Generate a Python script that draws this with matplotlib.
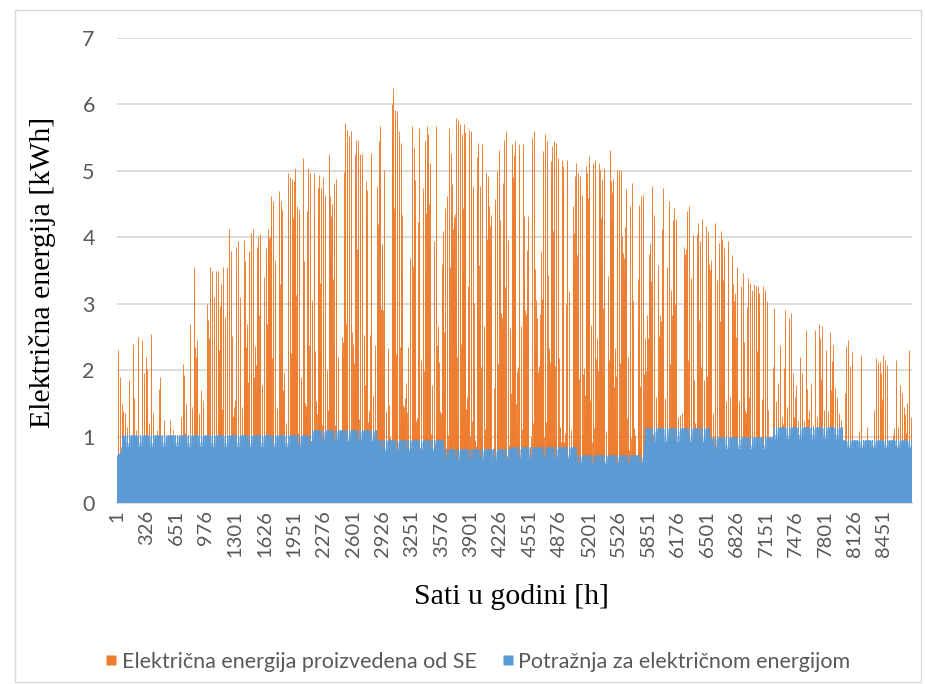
import numpy as np
import matplotlib
matplotlib.use("Agg")
import matplotlib.pyplot as plt
from matplotlib.lines import Line2D
from matplotlib.patches import Rectangle

# Peak hourly output of the solar plant for every day of the year [kWh]
jan_peaks = [2.3, 1.9, 1.5, 1.35, 1.15, 1.85, 0.9, 2.4, 1.1, 2.5,
             0.8, 2.45, 1.95, 2.2, 1.2, 2.55, 1.35, 0.6, 1.1, 1.9,
             0.9, 1.25, 0.5, 0.8, 1.25, 1.1, 0.7, 0.6, 0.8, 1.3, 2.1]
feb_peaks = [1.5, 0.9, 2.7, 1.45, 3.55, 2.45, 1.35, 1.7, 1.55, 0.8,
             3.0, 3.55, 3.5, 3.1, 3.5, 3.5, 3.3, 3.55, 2.8, 3.56,
             4.12, 3.8, 1.45, 3.86, 3.94, 3.1, 1.45, 3.96]
mar_peaks = [2.7, 3.79, 4.07, 4.12, 2.36, 4.02, 4.05, 1.78, 3.4, 3.84,
             4.12, 4.62, 4.54, 3.66, 1.43, 4.7, 4.54, 1.96, 1.2, 4.97,
             4.9, 4.87, 5.05, 4.47, 4.42, 1.9, 5.2, 1.5, 5.05, 4.97, 3.06]
apr_peaks = [4.97, 1.53, 4.94, 4.74, 4.9, 4.64, 2.0, 5.25, 4.5, 4.82,
             4.87, 2.2, 0.5, 2.5, 5.72, 5.62, 5.52, 5.6, 2.4, 5.47,
             5.47, 5.25, 5.25, 2.53, 4.85, 1.4, 5.27, 1.63, 2.38, 4.77]
may_peaks = [5.67, 3.9, 5.02, 1.38, 2.33, 1.0, 6.25, 5.92, 5.9, 5.6,
             5.42, 1.48, 1.8, 2.35, 3.69, 5.67, 5.35, 1.28, 5.65, 2.16,
             4.74, 5.45, 5.67, 5.12, 1.78, 3.94, 5.67, 2.66, 1.38, 4.09, 4.44]
jun_peaks = [4.62, 5.65, 5.27, 4.3, 5.8, 5.77, 5.7, 5.55, 5.7, 1.6,
             5.62, 5.6, 4.77, 0.95, 5.42, 4.77, 5.4, 2.66, 4.97, 4.92,
             4.34, 0.5, 4.57, 5.0, 5.32, 2.86, 5.47, 5.6, 3.96, 2.63]
jul_peaks = [5.4, 5.45, 1.98, 5.4, 2.66, 5.4, 2.91, 4.32, 0.4, 5.5,
             5.6, 3.06, 2.06, 3.8, 5.3, 5.55, 5.45, 2.33, 5.37, 5.45,
             5.42, 5.2, 1.15, 5.17, 1.05, 5.17, 3.19, 1.1, 4.47, 5.12, 4.97]
aug_peaks = [4.92, 4.64, 2.03, 5.07, 5.22, 2.68, 5.12, 5.17, 2.48, 5.12,
             4.87, 5.05, 1.08, 3.41, 5.32, 4.87, 2.33, 5.02, 5.02, 5.02,
             3.76, 4.72, 2.2, 4.47, 4.82, 1.13, 0.3, 4.49, 4.62, 4.64, 2.48]
sep_peaks = [2.83, 3.91, 4.77, 4.34, 1.6, 3.59, 2.83, 4.74, 1.58, 3.56,
             4.54, 3.21, 4.44, 4.27, 1.3, 1.33, 1.35, 3.86, 4.39, 4.47,
             3.39, 4.04, 1.2, 4.22, 3.94, 4.27, 1.85, 4.17, 4.09, 3.66]
oct_peaks = [1.35, 4.22, 3.36, 3.91, 4.09, 3.86, 1.53, 3.94, 1.6, 3.74,
             3.16, 3.56, 1.53, 3.26, 3.46, 1.4, 3.39, 3.31, 3.21, 3.29,
             3.26, 3.26, 0.4, 3.26, 3.21, 3.04, 0.8, 0.9, 2.93, 1.53, 1.8]
nov_peaks = [2.38, 1.3, 2.91, 1.45, 2.78, 2.86, 1.96, 1.78, 1.25, 2.2,
             1.96, 1.23, 2.6, 1.4, 1.8, 1.17, 2.6, 1.3, 2.7, 2.66,
             1.4, 2.3, 1.38, 2.58, 2.38, 1.73, 1.6, 1.35, 1.25, 0.7]
dec_peaks = [2.36, 2.46, 2.06, 2.28, 0.6, 0.8, 1.08, 2.23, 0.5, 0.7,
             1.15, 0.6, 0.4, 1.4, 2.18, 2.13, 2.13, 2.23, 2.16, 2.08,
             0.7, 0.5, 1.13, 2.16, 1.15, 1.78, 1.65, 1.45, 1.5, 2.3, 1.3]

# Share of the daily peak produced in each hour (0-23)
winter_shape = [0, 0, 0, 0, 0, 0, 0, 0, 0.12, 0.4, 0.7, 0.9, 1.0,
                0.92, 0.66, 0.34, 0.06, 0, 0, 0, 0, 0, 0, 0]
spring_shape = [0, 0, 0, 0, 0, 0, 0.06, 0.24, 0.48, 0.7, 0.87, 0.96, 1.0,
                0.97, 0.88, 0.7, 0.46, 0.2, 0.04, 0, 0, 0, 0, 0]
summer_shape = [0, 0, 0, 0, 0, 0.05, 0.18, 0.38, 0.58, 0.75, 0.88, 0.96, 1.0,
                0.98, 0.91, 0.8, 0.63, 0.42, 0.22, 0.08, 0.01, 0, 0, 0]

month_peaks = [jan_peaks, feb_peaks, mar_peaks, apr_peaks, may_peaks, jun_peaks,
               jul_peaks, aug_peaks, sep_peaks, oct_peaks, nov_peaks, dec_peaks]
month_shapes = [winter_shape, winter_shape, spring_shape, spring_shape,
                summer_shape, summer_shape, summer_shape, summer_shape,
                spring_shape, spring_shape, winter_shape, winter_shape]

# Consumption: first day of each period, daytime level, night level [kWh]
demand_start = [0, 2, 89, 119, 150, 180, 211, 242, 272, 301, 333]
demand_high = [0.75, 1.03, 1.10, 0.95, 0.82, 0.84, 0.72, 1.13, 0.99, 1.15, 0.95]
demand_low = [0.72, 0.84, 0.93, 0.78, 0.65, 0.67, 0.59, 0.92, 0.82, 0.96, 0.83]
# Hourly position between night level (0) and daytime level (1)
demand_shape = [0, 0, 0, 0, 0, 0, 0, 0.4, 0.9, 1, 1, 1,
                1, 1, 1, 1, 1, 1, 1, 0.8, 0.3, 0, 0, 0]

tick_hours = list(range(1, 8761, 325))

orange = '#ED7D31'
blue = '#5B9BD5'
grey_text = '#595959'
grid_grey = '#D9D9D9'

# hourly series
solar = []
for peaks, shape in zip(month_peaks, month_shapes):
    for p in peaks:
        solar.extend(p * np.array(shape))
solar = np.array(solar)

ends = demand_start[1:] + [365]
demand = []
for start, end, hi, lo in zip(demand_start, ends, demand_high, demand_low):
    for _ in range(start, end):
        demand.extend(lo + (hi - lo) * np.array(demand_shape))
demand = np.array(demand)

hours = np.arange(1, len(solar) + 1)

fig = plt.figure(figsize=(9.25, 6.84), dpi=100)
ax = fig.add_axes([117 / 925, 1 - 503 / 684, 795 / 925, 465 / 684])

# one thin bar per hour, snapped to the pixel grid
ax.vlines(hours, 0, solar, colors=orange, linewidth=0.65, zorder=2, snap=True)
ax.vlines(hours, 0, demand, colors=blue, linewidth=0.38, zorder=3, snap=True)

ax.set_xlim(0.5, 8760.5)
ax.set_ylim(0, 7)
ax.set_yticks(range(0, 8))
ax.set_xticks(tick_hours)
ax.set_xticklabels([str(h) for h in tick_hours], rotation=90, family='Lato', fontsize=14.5)
for lab in ax.get_yticklabels():
    lab.set_family('Lato')
    lab.set_fontsize(15.5)
ax.tick_params(axis='x', length=0, colors=grey_text, pad=5)
ax.tick_params(axis='y', length=0, colors=grey_text, pad=16)

ax.grid(axis='y', color=grid_grey, linewidth=1.3)
ax.set_axisbelow(True)
for side in ['left', 'right', 'top']:
    ax.spines[side].set_visible(False)
ax.spines['bottom'].set_color(grid_grey)
ax.spines['bottom'].set_linewidth(1.3)

fig.text(43 / 925, 1 - 272 / 684, 'Električna energija [kWh]', rotation=90,
         ha='center', va='center', family='Liberation Serif', fontsize=21.5)
fig.text(512 / 925, 1 - 597 / 684, 'Sati u godini [h]',
         ha='center', va='center', family='Liberation Serif', fontsize=21.5)

handles = [Line2D([], [], marker='s', markersize=7, linestyle='none',
                  markerfacecolor=orange, markeredgecolor='none'),
           Line2D([], [], marker='s', markersize=7, linestyle='none',
                  markerfacecolor=blue, markeredgecolor='none')]
fig.legend(handles, ['Električna energija proizvedena od SE',
                     'Potražnja za električnom energijom'],
           loc='center', bbox_to_anchor=(478 / 925, 1 - 662 / 684), ncol=2,
           frameon=False, handlelength=0.5, handletextpad=0.25,
           columnspacing=1.2, prop={'family': 'Lato', 'size': 15.5}, labelcolor=grey_text)

fig.patches.append(Rectangle((15 / 925, 1 - 682 / 684), 906 / 925, 672 / 684,
                             transform=fig.transFigure, fill=False,
                             edgecolor=grid_grey, linewidth=1))

fig.savefig('out.png', dpi=100)
